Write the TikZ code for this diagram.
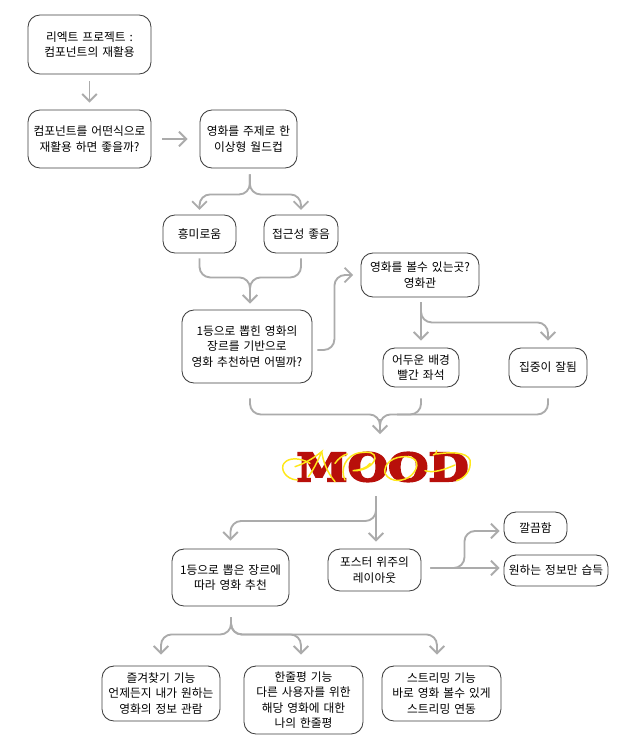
\documentclass[tikz,border=0pt]{standalone}
\usepackage{fontspec}
\usetikzlibrary{arrows.meta}
\setmainfont[WordSpace=1.5]{Noto Sans CJK KR}
\newfontfamily\logofont[FakeBold=5,FakeStretch=1.2]{DejaVu Serif Bold}
\definecolor{linkgray}{HTML}{ABABAB}
\definecolor{logored}{HTML}{B80F0A}
\definecolor{logoyellow}{HTML}{FFE81A}
\tikzset{
  bx/.style={draw=black!75,line width=0.65pt,rounded corners=9pt,fill=white,align=center,font=\fontsize{8.8pt}{11.6pt}\selectfont,inner sep=0pt},
  stem/.style={draw=linkgray,line width=1.4pt,rounded corners=8pt},
  link/.style={stem,-{Straight Barb[length=5.5pt,width=11pt,line width=1.4pt]}},
  swash/.style={draw=logoyellow,line width=1.1pt,line cap=round}
}
\newcommand{\bxat}[6]{\node[bx,minimum width=#4*0.75pt,minimum height=#5*0.75pt] (#1) at (#2,#3) {#6};}
\begin{document}
\begin{tikzpicture}[x=0.75pt,y=-0.75pt]
\useasboundingbox (0,0) rectangle (642,753);
\fill[white] (0,0) rectangle (642,753);
\bxat{a}{89.5}{44.5}{123}{59}{리엑트 프로젝트 :\\컴포넌트의 재활용}
\bxat{b}{89.5}{139}{123}{58}{컴포넌트를 어떤식으로\\재활용 하면 좋을까?}
\bxat{c}{248.5}{139}{97}{58}{영화를 주제로 한\\이상형 월드컵}
\bxat{d}{199.5}{234}{73}{38}{흥미로움}
\bxat{e}{301}{234}{74}{38}{접근성 좋음}
\bxat{f}{247}{346.5}{130}{73}{1등으로 뽑힌 영화의\\장르를 기반으로\\영화 추천하면 어떨까?}
\bxat{g}{420}{275}{118}{44}{영화를 볼수 있는곳?\\영화관}
\bxat{h}{421}{367.5}{76}{39}{어두운 배경\\빨간 좌석}
\bxat{i}{548}{367.5}{78}{39}{집중이 잘됨}
\node[font=\logofont\fontsize{29pt}{29pt}\selectfont,text=logored,inner sep=0pt] (m) at (382.5,467) {MOOD};
\coordinate (mtop) at (380,434);
\coordinate (mbot) at (376,496);
\begin{scope}[shift={(270,430)},x=0.25pt,y=-0.25pt]
\draw[swash] (82,150) .. controls (45,148) and (30,115) .. (42,100) .. controls (55,82) and (90,82) .. (120,100);
\draw[swash] (75,110) .. controls (105,100) and (130,85) .. (155,65) .. controls (145,90) and (130,120) .. (115,140);
\draw[swash] (155,65) .. controls (160,95) and (170,125) .. (195,155);
\draw[swash] (195,100) .. controls (205,85) and (220,75) .. (232,72);
\draw[swash] (225,150) .. controls (210,120) and (225,75) .. (270,68) .. controls (300,64) and (315,68) .. (315,85) .. controls (312,105) and (280,125) .. (248,122) .. controls (270,120) and (290,115) .. (300,100);
\draw[swash] (345,130) .. controls (340,100) and (370,78) .. (410,80) .. controls (445,82) and (450,110) .. (425,135) .. controls (405,155) and (360,160) .. (345,130);
\draw[swash] (500,72) .. controls (540,66) and (590,65) .. (600,90) .. controls (605,120) and (585,145) .. (560,152);
\draw[swash] (500,62) .. controls (500,70) and (497,73) .. (490,75);
\draw[swash] (465,122) .. controls (490,130) and (520,120) .. (555,105);
\end{scope}
\bxat{j}{230.5}{577.5}{117}{57}{1등으로 뽑은 장르에\\따라 영화 추천}
\bxat{k}{374.5}{570}{93}{42}{포스터 위주의\\레이아웃}
\bxat{l}{535.5}{527.5}{63}{31}{깔끔함}
\bxat{n}{556}{570.5}{104}{31}{원하는 정보만 습득}
\bxat{p}{161}{693.5}{118}{55}{즐겨찾기 기능\\언제든지 내가 원하는\\영화의 정보 관람}
\bxat{q}{303.5}{700}{119}{68}{한줄평 기능\\다른 사용자를 위한\\해당 영화에 대한\\나의 한줄평}
\bxat{r}{441.5}{693.5}{119}{55}{스트리밍 기능\\바로 영화 볼수 있게\\스트리밍 연동}
% connectors
\draw[link] ([yshift=-5.25pt]a.south) -- ([yshift=5.25pt]b.north);
\draw[link] ([xshift=8.25pt]b.east) -- ([xshift=-9pt]c.west);
\draw[link] ([xshift=1pt,yshift=-4.5pt]c.south) -- ++(0,20) -| ([yshift=3.5pt]d.north);
\draw[link] ([xshift=1pt,yshift=-4.5pt]c.south) -- ++(0,20) -| ([yshift=3.5pt]e.north);
\draw[stem] ([yshift=-3.75pt]d.south) -- ++(0,19) -| ([xshift=2.25pt,yshift=14pt]f.north);
\draw[stem] ([yshift=-3.75pt]e.south) -- ++(0,19) -| ([xshift=2.25pt,yshift=14pt]f.north);
\draw[link] ([xshift=2.25pt,yshift=14.5pt]f.north) -- ([xshift=2.25pt,yshift=4.5pt]f.north);
\draw[link] ([xshift=3.75pt,yshift=-2.6pt]f.east) -- ++(17,0) |- ([xshift=-5.5pt]g.west);
\draw[link] ([xshift=0.75pt,yshift=-3.75pt]g.south) -- ([yshift=5.25pt]h.north);
\draw[link] ([xshift=0.75pt,yshift=-3.75pt]g.south) -- ++(0,20) -| ([yshift=5.25pt]i.north);
\draw[stem] ([xshift=2.25pt,yshift=-11.25pt]f.south) -- ++(0,16) -| ([yshift=11pt]mtop);
\draw[stem] ([yshift=-8.25pt]i.south) -- ++(0,16) -| ([yshift=11pt]mtop);
\draw[stem] ([yshift=-8.25pt]h.south) -- ++(0,16) -- ++(-24,0);
\draw[link] ([yshift=11.5pt]mtop) -- (mtop);
\draw[link] (mbot) -- ([xshift=1.1pt,yshift=5.25pt]k.north);
\draw[link] (mbot) -- ++(0,25) -| ([yshift=6pt]j.north);
\draw[link] ([xshift=6.75pt,yshift=1.5pt]k.east) -- ++(34,0) |- ([xshift=-3pt,yshift=-2.6pt]l.west);
\draw[link] ([xshift=6.75pt,yshift=1.5pt]k.east) -- ([xshift=-3pt,yshift=1.9pt]n.west);
\draw[link] ([xshift=0.4pt,yshift=-8.25pt]j.south) -- ++(0,17) -| ([yshift=8.25pt]p.north);
\draw[link] ([xshift=0.4pt,yshift=-8.25pt]j.south) -- ++(0,17) -| ([xshift=-1.9pt,yshift=8.25pt]q.north);
\draw[link] ([xshift=0.4pt,yshift=-8.25pt]j.south) -- ++(0,17) -| ([xshift=-3.4pt,yshift=8.25pt]r.north);
\end{tikzpicture}
\end{document}
